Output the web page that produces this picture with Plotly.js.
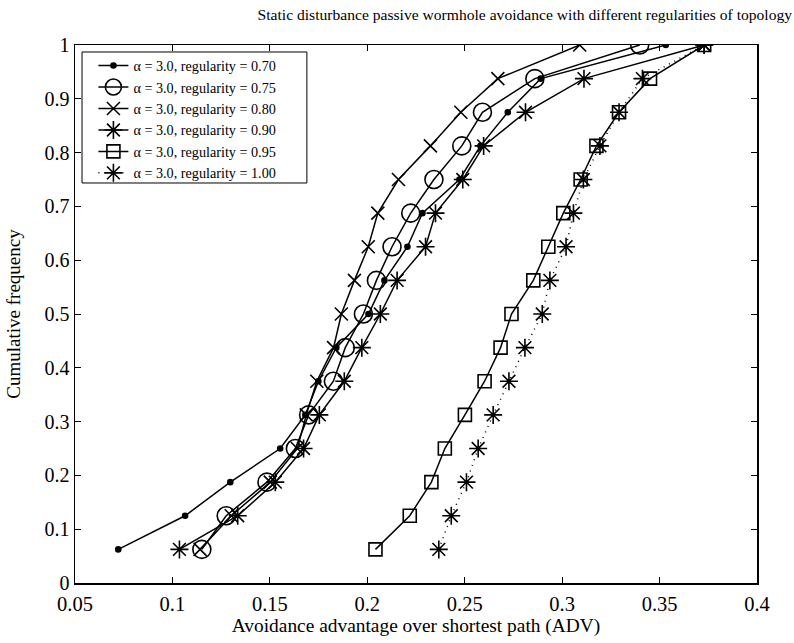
<!DOCTYPE html>
<html>
<head>
<meta charset="utf-8">
<script src="https://cdn.plot.ly/plotly-3.0.1.min.js"></script>
<style>html,body{margin:0;padding:0;background:#fff;}#chart{width:794px;height:643px;}</style>
</head>
<body>
<div id="chart"></div>
<script>
// Cumulative frequency levels (shared by all series)
const cumFreq = [0.0625, 0.125, 0.1875, 0.25, 0.3125, 0.375, 0.4375, 0.5, 0.5625, 0.625, 0.6875, 0.75, 0.8125, 0.875, 0.9375, 1.0];

// ADV values per regularity
const adv070 = [0.0722, 0.1065, 0.1297, 0.1553, 0.1682, 0.1749, 0.1841, 0.2006, 0.2088, 0.2206, 0.2283, 0.2473, 0.2581, 0.2721, 0.2890, 0.3532];
const adv075 = [0.1151, 0.1276, 0.1485, 0.1631, 0.1699, 0.1826, 0.1887, 0.1980, 0.2047, 0.2127, 0.2223, 0.2342, 0.2485, 0.2591, 0.2860, 0.3398];
const adv080 = [0.1142, 0.1302, 0.1502, 0.1641, 0.1687, 0.1741, 0.1827, 0.1867, 0.1934, 0.2005, 0.2054, 0.2160, 0.2324, 0.2480, 0.2670, 0.3090];
const adv090 = [0.1036, 0.1335, 0.1528, 0.1673, 0.1754, 0.1882, 0.1972, 0.2067, 0.2153, 0.2299, 0.2350, 0.2490, 0.2597, 0.2812, 0.3112, 0.3729];
const adv095 = [0.2042, 0.2218, 0.2329, 0.2398, 0.2501, 0.2602, 0.2684, 0.2740, 0.2852, 0.2929, 0.3006, 0.3095, 0.3176, 0.3292, 0.3451, 0.3729];
const adv100 = [0.2367, 0.2431, 0.2509, 0.2569, 0.2646, 0.2727, 0.2809, 0.2898, 0.2937, 0.3020, 0.3058, 0.3109, 0.3194, 0.3292, 0.3412, 0.3729];

const seriesNames = [
  "α = 3.0, regularity = 0.70",
  "α = 3.0, regularity = 0.75",
  "α = 3.0, regularity = 0.80",
  "α = 3.0, regularity = 0.90",
  "α = 3.0, regularity = 0.95",
  "α = 3.0, regularity = 1.00"
];
const seriesX = [adv070, adv075, adv080, adv090, adv095, adv100];

const markerStyles = [
  {symbol: "circle", size: 5},
  {symbol: "circle-open", size: 18},
  {symbol: "x-thin-open", size: 13},
  {symbol: "asterisk-open", size: 15},
  {symbol: "square-open", size: 13},
  {symbol: "asterisk-open", size: 15}
];
const lineStyles = [
  {dash: "solid", width: 1.5},
  {dash: "solid", width: 1.5},
  {dash: "solid", width: 1.5},
  {dash: "solid", width: 1.5},
  {dash: "solid", width: 1.5},
  {dash: "1px,5px", width: 1.5}
];

const traces = seriesX.map((xs, i) => ({
  type: "scatter",
  mode: "lines+markers",
  x: xs,
  y: cumFreq,
  name: seriesNames[i],
  line: {color: "#000", width: lineStyles[i].width, dash: lineStyles[i].dash},
  marker: {symbol: markerStyles[i].symbol, size: markerStyles[i].size, color: "#000",
           line: {color: "#000", width: 1.6}}
}));

const serif = "Liberation Serif, DejaVu Serif, serif";
const layout = {
  width: 794, height: 643,
  margin: {l: 75, r: 37, t: 45, b: 60},
  paper_bgcolor: "#fff", plot_bgcolor: "#fff",
  font: {family: serif, color: "#000", size: 15},
  title: {text: "Static disturbance passive wormhole avoidance with different regularities of topology",
          font: {family: serif, size: 15.6, color: "#000"}, x: 0.661, xanchor: "center", y: 0.978, yanchor: "middle"},
  xaxis: {
    range: [0.05, 0.4], dtick: 0.05, tick0: 0.05,
    showgrid: false, zeroline: false,
    showline: true, linecolor: "#000", linewidth: 1.5, mirror: "ticks",
    ticks: "inside", ticklen: 6, tickwidth: 1, tickcolor: "#000",
    tickfont: {family: serif, size: 20.5}, ticklabelstandoff: 2,
    title: {text: "Avoidance advantage over shortest path (ADV)", font: {family: serif, size: 19.4}, standoff: 0}
  },
  yaxis: {
    range: [0, 1], dtick: 0.1, tick0: 0,
    showgrid: false, zeroline: false,
    showline: true, linecolor: "#000", linewidth: 1.5, mirror: "ticks",
    ticks: "inside", ticklen: 6, tickwidth: 1, tickcolor: "#000",
    tickfont: {family: serif, size: 20},
    title: {text: "Cumulative frequency", font: {family: serif, size: 19}, standoff: 19}
  },
  // legend frame (drawn as a shape so its box can be wider than Plotly's auto-sized one)
  shapes: [{
    type: "rect", xref: "paper", yref: "paper",
    x0: 0.0103, x1: 0.340, y0: 0.7435, y1: 0.987,
    line: {color: "#000", width: 1}, fillcolor: "#fff", layer: "above"
  }],
  legend: {
    x: 0.027, y: 0.991, xanchor: "left", yanchor: "top",
    bgcolor: "rgba(0,0,0,0)", borderwidth: 0,
    font: {family: serif, size: 14.2, color: "#000"},
    tracegroupgap: 0, itemsizing: "trace"
  },
  showlegend: true
};

Plotly.newPlot("chart", traces, layout, {displayModeBar: false, staticPlot: true});
</script>
</body>
</html>
